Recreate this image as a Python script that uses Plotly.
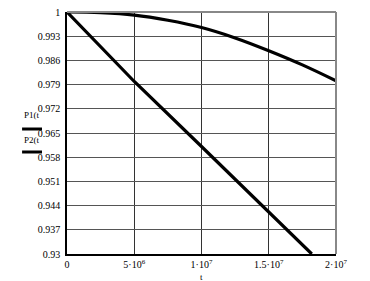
import plotly.graph_objects as go

# Data
t_p1 = [0, 2.5e6, 5e6, 7.5e6, 1e7, 1.25e7, 1.5e7, 1.75e7, 2e7]
p1 = [1.0, 0.9998, 0.9991, 0.9976, 0.9955, 0.9925, 0.9888, 0.9847, 0.9801]
t_p2 = [0, 5e6, 1e7, 1.5e7, 1.82e7]
p2 = [1.0, 0.9799, 0.9611, 0.9420, 0.930]

x_tickvals = [0, 5e6, 1e7, 1.5e7, 2e7]
x_ticktext = ["0", "5·10<sup>6</sup>", "1·10<sup>7</sup>", "1.5·10<sup>7</sup>", "2·10<sup>7</sup>"]
y_tickvals = [0.93, 0.937, 0.944, 0.951, 0.958, 0.965, 0.972, 0.979, 0.986, 0.993, 1.0]
y_ticktext = ["0.93", "0.937", "0.944", "0.951", "0.958", "0.965", "0.972", "0.979", "0.986", "0.993", "1"]

FONT = "Liberation Serif"

fig = go.Figure()
fig.add_trace(go.Scatter(x=t_p1, y=p1, mode="lines", line=dict(color="black", width=3.2, shape="spline"), name="P1(t)"))
fig.add_trace(go.Scatter(x=t_p2, y=p2, mode="lines", line=dict(color="black", width=3.2), name="P2(t)"))

fig.update_layout(
    width=370, height=281,
    margin=dict(l=67, r=34, t=12, b=27),
    paper_bgcolor="white", plot_bgcolor="white",
    showlegend=False,
    font=dict(family=FONT, size=10, color="black"),
    xaxis=dict(range=[0, 2e7], tickvals=x_tickvals, ticktext=x_ticktext,
               showgrid=True, gridcolor="#333", gridwidth=1,
               showline=True, linecolor="black", linewidth=1.5,
               zeroline=False, ticks="", ticklabelstandoff=0, automargin=False),
    yaxis=dict(range=[0.93, 1.0], tickvals=y_tickvals, ticktext=y_ticktext,
               showgrid=True, gridcolor="#555", gridwidth=1,
               showline=True, linecolor="black", linewidth=1.5,
               zeroline=False, ticks="", ticklabelstandoff=3, automargin=False),
    shapes=[
        dict(type="line", xref="paper", yref="paper", x0=0, x1=1, y0=1, y1=1, line=dict(color="#888", width=2)),
        dict(type="line", xref="paper", yref="paper", x0=1, x1=1, y0=0, y1=1, line=dict(color="#888", width=2)),
        dict(type="line", xref="paper", yref="paper", x0=-0.167, x1=-0.093, y0=0.5165, y1=0.5165, line=dict(color="black", width=3)),
        dict(type="line", xref="paper", yref="paper", x0=-0.167, x1=-0.093, y0=0.4215, y1=0.4215, line=dict(color="black", width=3)),
    ],
    annotations=[
        dict(text="P1(t", xref="paper", yref="paper", x=-0.167, xanchor="left", y=0.574, showarrow=False, font=dict(size=9)),
        dict(text="P2(t", xref="paper", yref="paper", x=-0.167, xanchor="left", y=0.471, showarrow=False, font=dict(size=9)),
        dict(text="t", xref="paper", yref="paper", x=0.5, y=-0.093, yanchor="middle", showarrow=False, font=dict(size=9)),
    ],
)

fig.write_html("out.html", config={"displayModeBar": False},
               post_script="document.body.style.margin='0';")
